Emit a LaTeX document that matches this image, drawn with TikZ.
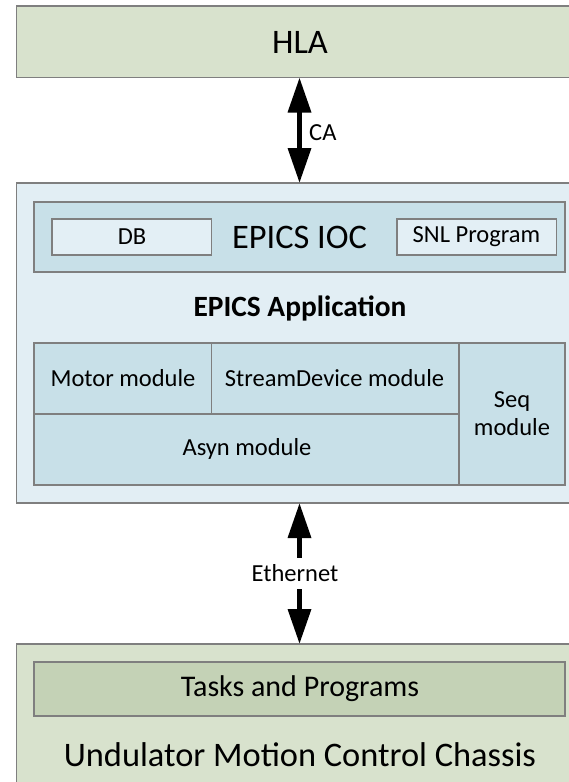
\documentclass[tikz,border=0pt]{standalone}
\usepackage{fontspec}
\setmainfont{Carlito}
\usetikzlibrary{arrows.meta}
\definecolor{bordergray}{HTML}{7F7F7F}
\definecolor{hlagreen}{HTML}{D8E2CD}
\definecolor{taskgreen}{HTML}{C4D2B6}
\definecolor{appblue}{HTML}{E2EEF4}
\definecolor{iocblue}{HTML}{C8E0E8}
\definecolor{dbblue}{HTML}{E3EFF5}
\tikzset{
  box/.style={draw=bordergray, line width=1.4pt, anchor=north west, inner sep=0pt, outer sep=0pt},
  txt/.style={inner sep=0pt, text=black},
  smallf/.style={font=\fontsize{24.5}{27}\selectfont},
  bigf/.style={font=\fontsize{34.4}{38}\selectfont},
  bigarrow/.style={line width=5pt, {Triangle[length=35pt,width=22.5pt]}-{Triangle[length=35pt,width=22.5pt]}, shorten <=0pt, shorten >=0pt},
}
\begin{document}
\begin{tikzpicture}[x=1pt,y=-1pt]
\useasboundingbox (0,0) rectangle (569,782);
\clip (0,0) rectangle (569,782);
% HLA
\node[box, fill=hlagreen, minimum width=575, minimum height=71.5] (hla) at (16.5,6) {};
\node[txt, bigf] (hlat) at (300,42) {HLA};
% EPICS application
\node[box, fill=appblue, minimum width=575, minimum height=320] (app) at (16.5,183) {};
\node[box, fill=iocblue, minimum width=531, minimum height=70] (ioc) at (34,202) {};
\node[box, fill=dbblue, minimum width=159.5, minimum height=36] (db) at (52,219) {};
\node[box, fill=dbblue, minimum width=159.5, minimum height=36] (snl) at (397,219) {};
\node[txt, smallf] (dbt) at (132,237) {DB};
\node[txt, smallf] (snlt) at (476.5,237) {SNL Program};
\node[txt, bigf] (ioct) at (299.5,237) {EPICS IOC};
\node[txt, font=\bfseries\fontsize{29.4}{32}\selectfont] (appt) at (300,308) {EPICS Application};
\node[box, fill=iocblue, minimum width=177.5, minimum height=71] (motor) at (34,343) {};
\node[box, fill=iocblue, minimum width=247.5, minimum height=71] (stream) at (211.5,343) {};
\node[box, fill=iocblue, minimum width=106, minimum height=142] (seq) at (459,343) {};
\node[box, fill=iocblue, minimum width=425, minimum height=71] (asyn) at (34,414) {};
\node[txt, smallf] (motort) at (123,378) {Motor module};
\node[txt, smallf] (streamt) at (334.5,378) {StreamDevice module};
\node[txt, font=\fontsize{24.5}{28}\selectfont, align=center] (seqt) at (512,414) {Seq\\module};
\node[txt, smallf] (asynt) at (247,449) {Asyn module};
% Chassis
\node[box, fill=hlagreen, minimum width=575, minimum height=150] (chassis) at (16.5,644) {};
\node[box, fill=taskgreen, minimum width=531, minimum height=54] (tasks) at (34,662) {};
\node[txt, font=\fontsize{30}{33}\selectfont] (taskst) at (300,689) {Tasks and Programs};
\node[txt, bigf] (chassist) at (300,755) {Undulator Motion Control Chassis};
% arrows
\coordinate (caTop) at (299.5,77.5);
\coordinate (caBot) at (299.5,183);
\draw[bigarrow] (caTop) -- (caBot);
\node[txt, anchor=west, smallf] (ca) at (309,133) {CA};
\coordinate (ethTop) at (299.5,503);
\coordinate (ethBot) at (299.5,644);
\draw[bigarrow] (ethTop) -- (ethBot);
\node[txt, fill=white, minimum height=31, inner xsep=2pt, smallf] (eth) at (295,573.5) {Ethernet};
\end{tikzpicture}
\end{document}
